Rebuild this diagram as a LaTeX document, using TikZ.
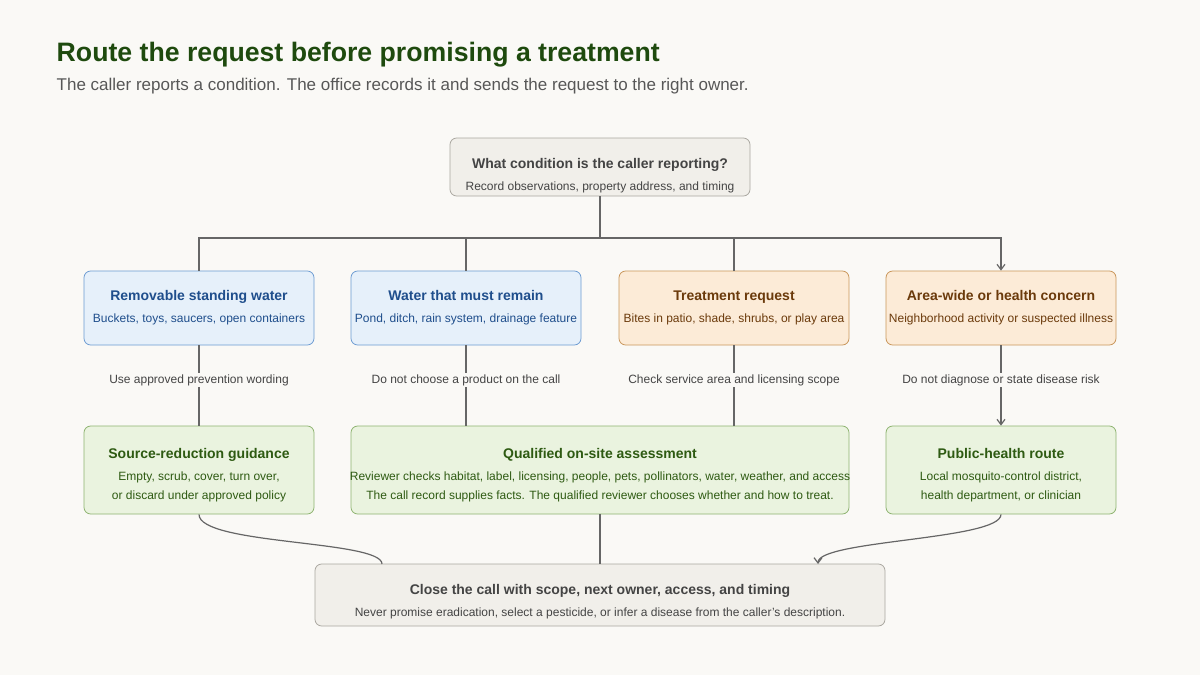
\documentclass[tikz,border=0pt]{standalone}
\usepackage{fontspec}
\setmainfont{Liberation Sans}
\usetikzlibrary{arrows.meta}
\definecolor{bg}{HTML}{FAF9F6}
\definecolor{bfill}{HTML}{E6F0FA}\definecolor{bdraw}{HTML}{6C9BD2}\definecolor{btext}{HTML}{1F4E8C}
\definecolor{ofill}{HTML}{FCEBD7}\definecolor{odraw}{HTML}{C9965A}\definecolor{otext}{HTML}{6B3A0B}
\definecolor{gfill}{HTML}{EAF3DF}\definecolor{gdraw}{HTML}{8DB36F}\definecolor{gtext}{HTML}{2E5A12}
\definecolor{nfill}{HTML}{F1EFEA}\definecolor{ndraw}{HTML}{AAA7A0}\definecolor{ntext}{HTML}{444444}
\definecolor{ttl}{HTML}{1E4A0E}\definecolor{line}{HTML}{666666}
\tikzset{
 box/.style={rounded corners=5pt, line width=0.6pt, align=center, inner sep=0pt, font=\fontsize{9}{14.5}\selectfont},
 bluebox/.style={box, fill=bfill, draw=bdraw, text=btext},
 orangebox/.style={box, fill=ofill, draw=odraw, text=otext},
 greenbox/.style={box, fill=gfill, draw=gdraw, text=gtext},
 neutralbox/.style={box, fill=nfill, draw=ndraw, text=ntext},
 lab/.style={fill=bg, text=ntext, font=\fontsize{9}{11}\selectfont, inner sep=1pt},
 conn/.style={draw=line, line width=0.9pt},
 arr/.style={conn, -{Straight Barb[length=4pt,width=6pt]}},
}
\newcommand{\bt}[3][0pt]{{\fontsize{10.5}{13}\selectfont\bfseries\rule{0pt}{#1}#2}\\[2pt]#3}
\begin{document}
\begin{tikzpicture}[x=0.75pt,y=-0.75pt]
\fill[bg] (0,0) rectangle (1200,675);
\useasboundingbox (0,0) rectangle (1200,675);
\node[anchor=west, text=ttl, font=\fontsize{20}{24}\selectfont\bfseries] (title) at (52,55) {Route the request before promising a treatment};
\node[anchor=west, text=ntext!90, font=\fontsize{12.75}{15}\selectfont] (sub) at (52,86) {The caller reports a condition. The office records it and sends the request to the right owner.};

\node[neutralbox, minimum width=225pt, minimum height=43.5pt] (q) at (600,167) {\bt[20pt]{What condition is the caller reporting?}{Record observations, property address, and timing}};

\node[bluebox, minimum width=172.5pt, minimum height=55.5pt] (a) at (199,308) {\bt{Removable standing water}{Buckets, toys, saucers, open containers}};
\node[bluebox, minimum width=172.5pt, minimum height=55.5pt] (b) at (466,308) {\bt{Water that must remain}{Pond, ditch, rain system, drainage feature}};
\node[orangebox, minimum width=172.5pt, minimum height=55.5pt] (c) at (734,308) {\bt{Treatment request}{Bites in patio, shade, shrubs, or play area}};
\node[orangebox, minimum width=172.5pt, minimum height=55.5pt] (d) at (1001,308) {\bt{Area-wide or health concern}{Neighborhood activity or suspected illness}};

\node[greenbox, minimum width=172.5pt, minimum height=66pt] (s) at (199,470) {\bt[15pt]{Source-reduction guidance}{Empty, scrub, cover, turn over,\\or discard under approved policy}};
\node[greenbox, minimum width=373.5pt, minimum height=66pt] (o) at (600,470) {\bt[15pt]{Qualified on-site assessment}{\makebox[0pt][c]{Reviewer checks habitat, label, licensing, people, pets, pollinators, water, weather, and access}\\\makebox[0pt][c]{The call record supplies facts. The qualified reviewer chooses whether and how to treat.}}};
\node[greenbox, minimum width=172.5pt, minimum height=66pt] (p) at (1001,470) {\bt[15pt]{Public-health route}{Local mosquito-control district,\\health department, or clinician}};

\node[neutralbox, minimum width=427.5pt, minimum height=46.5pt] (e) at (600,595) {\bt[18pt]{Close the call with scope, next owner, access, and timing}{Never promise eradication, select a pesticide, or infer a disease from the caller's description.}};

\coordinate (bus) at (600,238);
\draw[conn] (q.south) -- (bus);
\draw[conn] (bus) -| (a.north);
\draw[conn] (bus) -| (b.north);
\draw[conn] (bus) -| (c.north);
\draw[arr] (bus) -| (d.north);

\draw[conn] (a.south) -- (s.north);
\draw[conn] (b.south) -- (b.south |- o.north);
\draw[conn] (c.south) -- (c.south |- o.north);
\draw[arr] (d.south) -- (p.north);
\node[lab] (la) at (199,380) {Use approved prevention wording};
\node[lab] (lb) at (466,380) {Do not choose a product on the call};
\node[lab] (lc) at (734,380) {Check service area and licensing scope};
\node[lab] (ld) at (1001,380) {Do not diagnose or state disease risk};

\coordinate (e1) at (382,564);
\coordinate (e3) at (818,564);
\draw[conn] (s.south) .. controls (199,545) and (382,540) .. (e1);
\draw[conn] (o.south) -- (e.north);
\draw[arr] (p.south) .. controls (1001,540) and (818,540) .. (e3);
\end{tikzpicture}
\end{document}
